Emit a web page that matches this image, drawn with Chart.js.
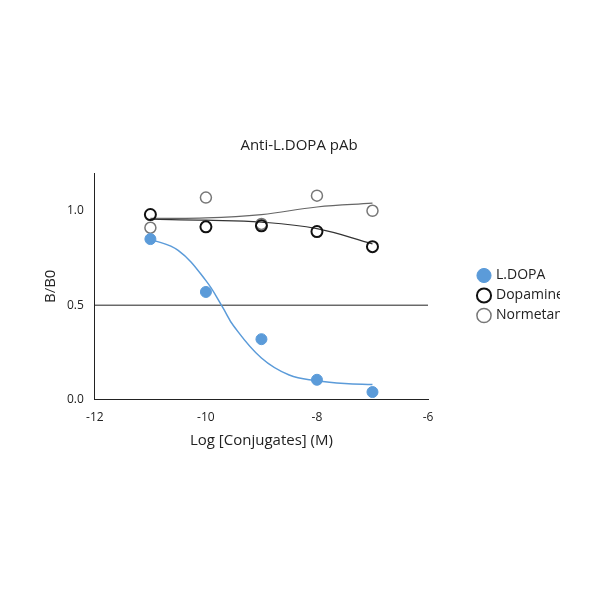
<!DOCTYPE html>
<html>
<head>
<meta charset="utf-8">
<script src="https://cdn.jsdelivr.net/npm/chart.js@4"></script>
<style>
  body { margin: 0; background: #fff; }
  #wrap { width: 600px; height: 600px; }
</style>
</head>
<body>
<div id="wrap"><canvas id="grafico"></canvas></div>
<script>
// measured points
const logConc = [-11, -10, -9, -8, -7];
const ldopa = [0.85, 0.57, 0.32, 0.105, 0.04];
const dopamine = [0.98, 0.915, 0.92, 0.89, 0.81];
const normet = [0.91, 1.07, 0.93, 1.08, 1.0];

// fitted curves
const fitX = [-11, -10.5, -10, -9.7, -9.5, -9, -8.5, -8, -7.5, -7];
const ldopaFit = [0.85, 0.79, 0.63, 0.49, 0.39, 0.22, 0.13, 0.10, 0.085, 0.08];
const dopaFitX = [-11, -10, -9, -8, -7];
const dopaFit = [0.955, 0.95, 0.94, 0.905, 0.825];
const normFit = [0.96, 0.962, 0.98, 1.02, 1.04];

const refX = [-12, -6];
const refY = [0.5, 0.5];

const pts = (xs, ys) => xs.map((x, i) => ({ x: x, y: ys[i] }));
const font = { family: 'Open Sans, Liberation Sans, sans-serif', size: 13 };

new Chart(document.getElementById('grafico').getContext('2d'), {
    type: 'scatter',
    data: {
        datasets: [
            { label: 'L.DOPA', data: pts(logConc, ldopa), backgroundColor: '#5b9bd9', borderColor: '#5b9bd9', pointRadius: 5.5 },
            { label: 'Dopamine', data: pts(logConc, dopamine), backgroundColor: 'rgba(0,0,0,0)', borderColor: '#111', borderWidth: 2, pointRadius: 5.5 },
            { label: 'Normetanephrine', data: pts(logConc, normet), backgroundColor: 'rgba(0,0,0,0)', borderColor: '#777', borderWidth: 1.5, pointRadius: 5.5 },
            { label: '', type: 'line', data: pts(fitX, ldopaFit), borderColor: '#5b9bd9', borderWidth: 1.5, pointRadius: 0, tension: 0.4, fill: false },
            { label: '', type: 'line', data: pts(dopaFitX, dopaFit), borderColor: '#333', borderWidth: 1.2, pointRadius: 0, tension: 0.4, fill: false },
            { label: '', type: 'line', data: pts(dopaFitX, normFit), borderColor: '#666', borderWidth: 1.2, pointRadius: 0, tension: 0.4, fill: false },
            { label: '', type: 'line', data: pts(refX, refY), borderColor: '#222', borderWidth: 1, pointRadius: 0, fill: false }
        ]
    },
    options: {
        responsive: true,
        maintainAspectRatio: false,
        animation: false,
        layout: { padding: { left: 38, right: 40, top: 137, bottom: 146 } },
        plugins: {
            title: { display: true, text: 'Anti-L.DOPA pAb', color: '#222', font: { ...font, size: 15, weight: 'normal' }, padding: { bottom: 18 } },
            legend: {
                position: 'right',
                labels: {
                    usePointStyle: true, pointStyle: 'circle', boxWidth: 10, boxHeight: 10,
                    color: '#222', font: { ...font, size: 14 }, padding: 6,
                    filter: item => item.text !== ''
                }
            },
            tooltip: { enabled: false }
        },
        scales: {
            x: {
                min: -12, max: -6,
                ticks: { stepSize: 2, color: '#222', font: { ...font, size: 12 } },
                grid: { display: false },
                border: { color: '#222' },
                title: { display: true, text: 'Log [Conjugates] (M)', color: '#222', font: { ...font, size: 15 } }
            },
            y: {
                min: 0, max: 1.2,
                ticks: { stepSize: 0.5, color: '#222', font: { ...font, size: 12 }, callback: v => v > 1.1 ? '' : v.toFixed(1) },
                grid: { display: false },
                border: { color: '#222' },
                title: { display: true, text: 'B/B0', color: '#222', font: { ...font, size: 15 } }
            },
            spacer: {
                type: 'linear', position: 'right', display: true,
                ticks: { display: false }, grid: { display: false }, border: { display: false },
                afterFit: scale => { scale.width = 45; }
            }
        }
    }
});
</script>
</body>
</html>
